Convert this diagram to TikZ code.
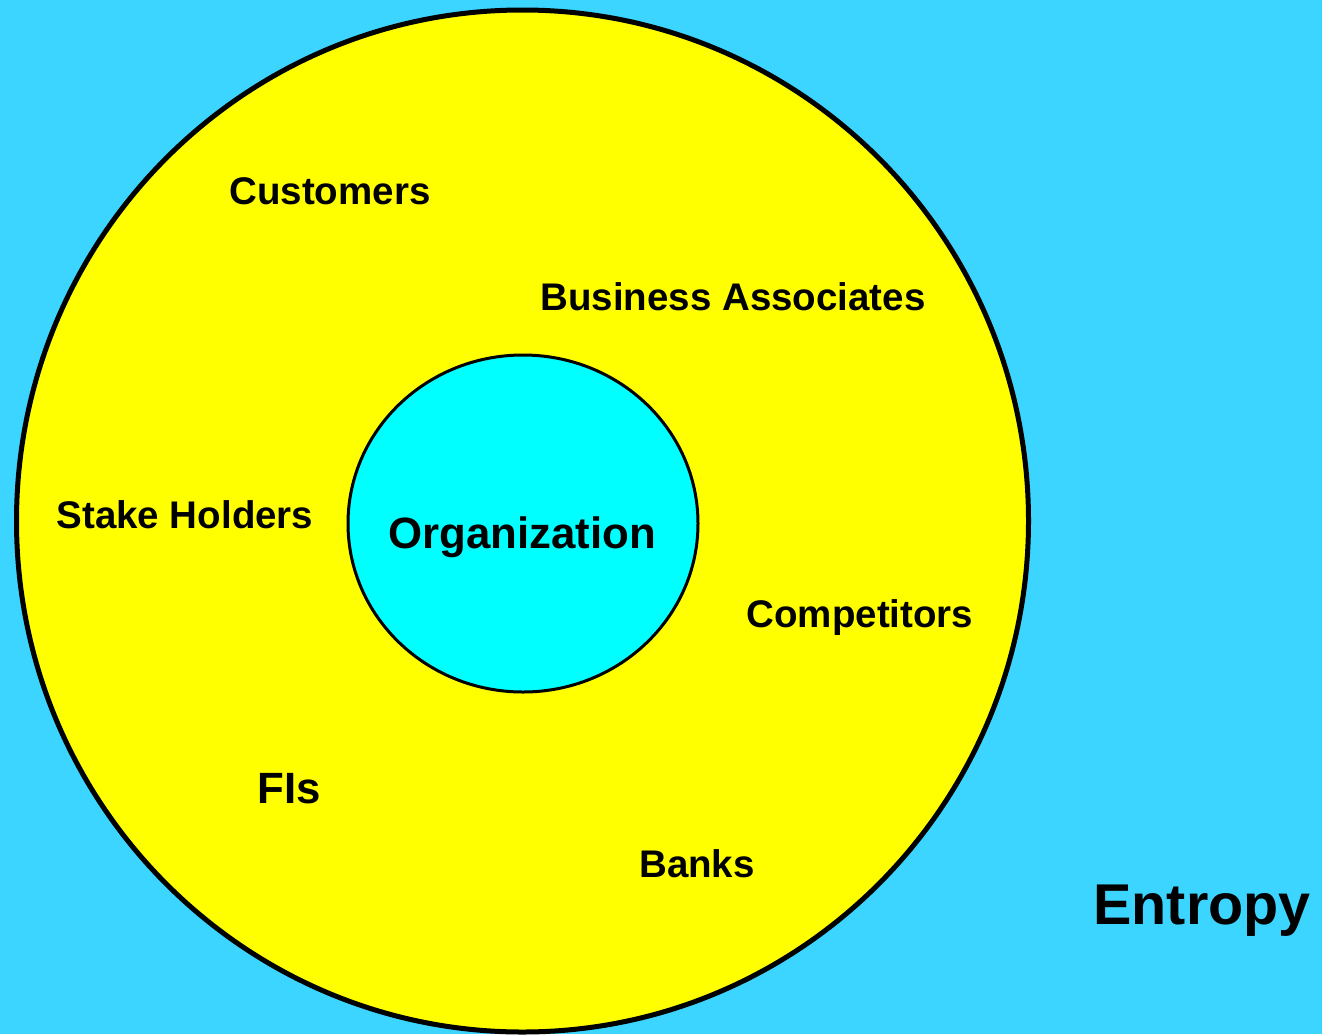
\documentclass[tikz,border=0pt]{standalone}
\usepackage{fontspec}
\setmainfont{Liberation Sans}
\definecolor{sky}{HTML}{3BD5FF}
\definecolor{sun}{HTML}{FFFF00}
\definecolor{core}{HTML}{00FFFF}
\begin{document}
\begin{tikzpicture}[x=1pt,y=-1pt]
        \tikzstyle{party}=[anchor=base,inner sep=0pt,font=\bfseries\fontsize{38.5}{46}\selectfont]
        \tikzstyle{big}=[anchor=base,inner sep=0pt,font=\bfseries\fontsize{43.8}{52}\selectfont]
        \useasboundingbox (0,0) rectangle (1322,1034);
        \fill[sky] (0,0) rectangle (1322,1034);
        \begin{scope}
         \draw[line width=5pt,fill=sun] (522.5,521) ellipse [x radius=506, y radius=511];
         \draw[line width=3pt,fill=core] (523,523.5) ellipse [x radius=175, y radius=168.5];
         \node [party] (cust) at (330,204) {Customers};
         \node [party] (assoc) at (733,310) {Business Associates};
         \node [party] (stake) at (185,528) {Stake Holders};
         \node [big] (org) at (522,548) {Organization};
         \node [party] (comp) at (860,627) {Competitors};
         \node [big] (fis) at (289,803) {FIs};
         \node [party] (banks) at (697,877) {Banks};
         \node [anchor=base,inner sep=0pt,font=\bfseries\fontsize{57.5}{68}\selectfont] (entropy) at (1202,924) {Entropy};
        \end{scope}
\end{tikzpicture}
\end{document}
